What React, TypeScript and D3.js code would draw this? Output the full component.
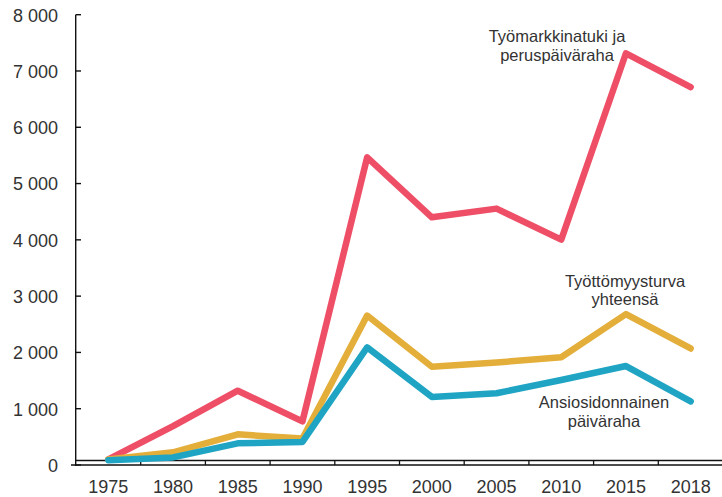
import React from "react";
import * as d3 from "d3";

const years = ["1975", "1980", "1985", "1990", "1995", "2000", "2005", "2010", "2015", "2018"];
const tyomarkkinatuki = [100, 690, 1320, 775, 5465, 4400, 4555, 4005, 7315, 6715];
const yhteensa = [100, 225, 545, 470, 2655, 1745, 1820, 1915, 2680, 2070];
const ansiosidonnainen = [85, 135, 385, 410, 2090, 1210, 1275, 1510, 1758, 1130];
const yTicks = [0, 1000, 2000, 3000, 4000, 5000, 6000, 7000, 8000];

const W = 722;
const H = 497;
const font = "'Liberation Sans', Arial, sans-serif";
const textColor = "#333333";

export default function App() {
  const x = d3.scaleBand<string>().domain(years).range([76, 723]).padding(0);
  const y = d3.scaleLinear().domain([0, 8000]).range([465, 14.7]);
  const cx = (yr: string) => (x(yr) as number) + x.bandwidth() / 2;
  const line = d3
    .line<number>()
    .x((_, i) => cx(years[i]))
    .y((v) => y(v));

  const fmt = (v: number) => (v >= 1000 ? `${Math.floor(v / 1000)} ${String(v % 1000).padStart(3, "0")}` : String(v));

  const series = [
    { data: tyomarkkinatuki, color: "#ee4f66" },
    { data: yhteensa, color: "#e3ae3a" },
    { data: ansiosidonnainen, color: "#1fa5c3" },
  ];

  const baseY = y(0);
  const upperY = baseY - 4.5;

  return (
    <svg
      width={W}
      height={H}
      style={{ position: "absolute", left: 0, top: 0, background: "#fff" }}
      fontFamily={font}
    >
      {/* y axis */}
      <line x1={75.7} x2={75.7} y1={y(8000)} y2={baseY + 1} stroke="#111" strokeWidth={1.4} />
      {yTicks.map((t) => (
        <g key={t}>
          <line x1={75.7} x2={81} y1={y(t)} y2={y(t)} stroke="#111" strokeWidth={1.4} />
          <text x={58} y={y(t) + 6.8} textAnchor="end" fontSize={18} fill={textColor}>
            {fmt(t)}
          </text>
        </g>
      ))}
      {/* x axis double line with ticks between */}
      <line x1={75} x2={W} y1={upperY} y2={upperY} stroke="#111" strokeWidth={1.3} />
      <line x1={71} x2={W} y1={baseY} y2={baseY} stroke="#111" strokeWidth={1.4} />
      {years.slice(1).map((yr) => (
        <line
          key={yr}
          x1={x(yr) as number}
          x2={x(yr) as number}
          y1={upperY}
          y2={baseY}
          stroke="#111"
          strokeWidth={1.3}
        />
      ))}
      {years.map((yr) => (
        <text key={yr} x={cx(yr)} y={493} textAnchor="middle" fontSize={18} fill={textColor}>
          {yr}
        </text>
      ))}
      {/* series */}
      {series.map((s, i) => (
        <path
          key={i}
          d={line(s.data) as string}
          fill="none"
          stroke={s.color}
          strokeWidth={6.5}
          strokeLinejoin="round"
          strokeLinecap="round"
        />
      ))}
      {/* labels */}
      <g fontSize={16.5} fill={textColor} textAnchor="middle">
        <text x={557} y={42}>Työmarkkinatuki ja</text>
        <text x={557} y={60.5}>peruspäiväraha</text>
        <text x={625} y={286.5}>Työttömyysturva</text>
        <text x={625} y={305}>yhteensä</text>
        <text x={604} y={408}>Ansiosidonnainen</text>
        <text x={604} y={426.5}>päiväraha</text>
      </g>
    </svg>
  );
}
